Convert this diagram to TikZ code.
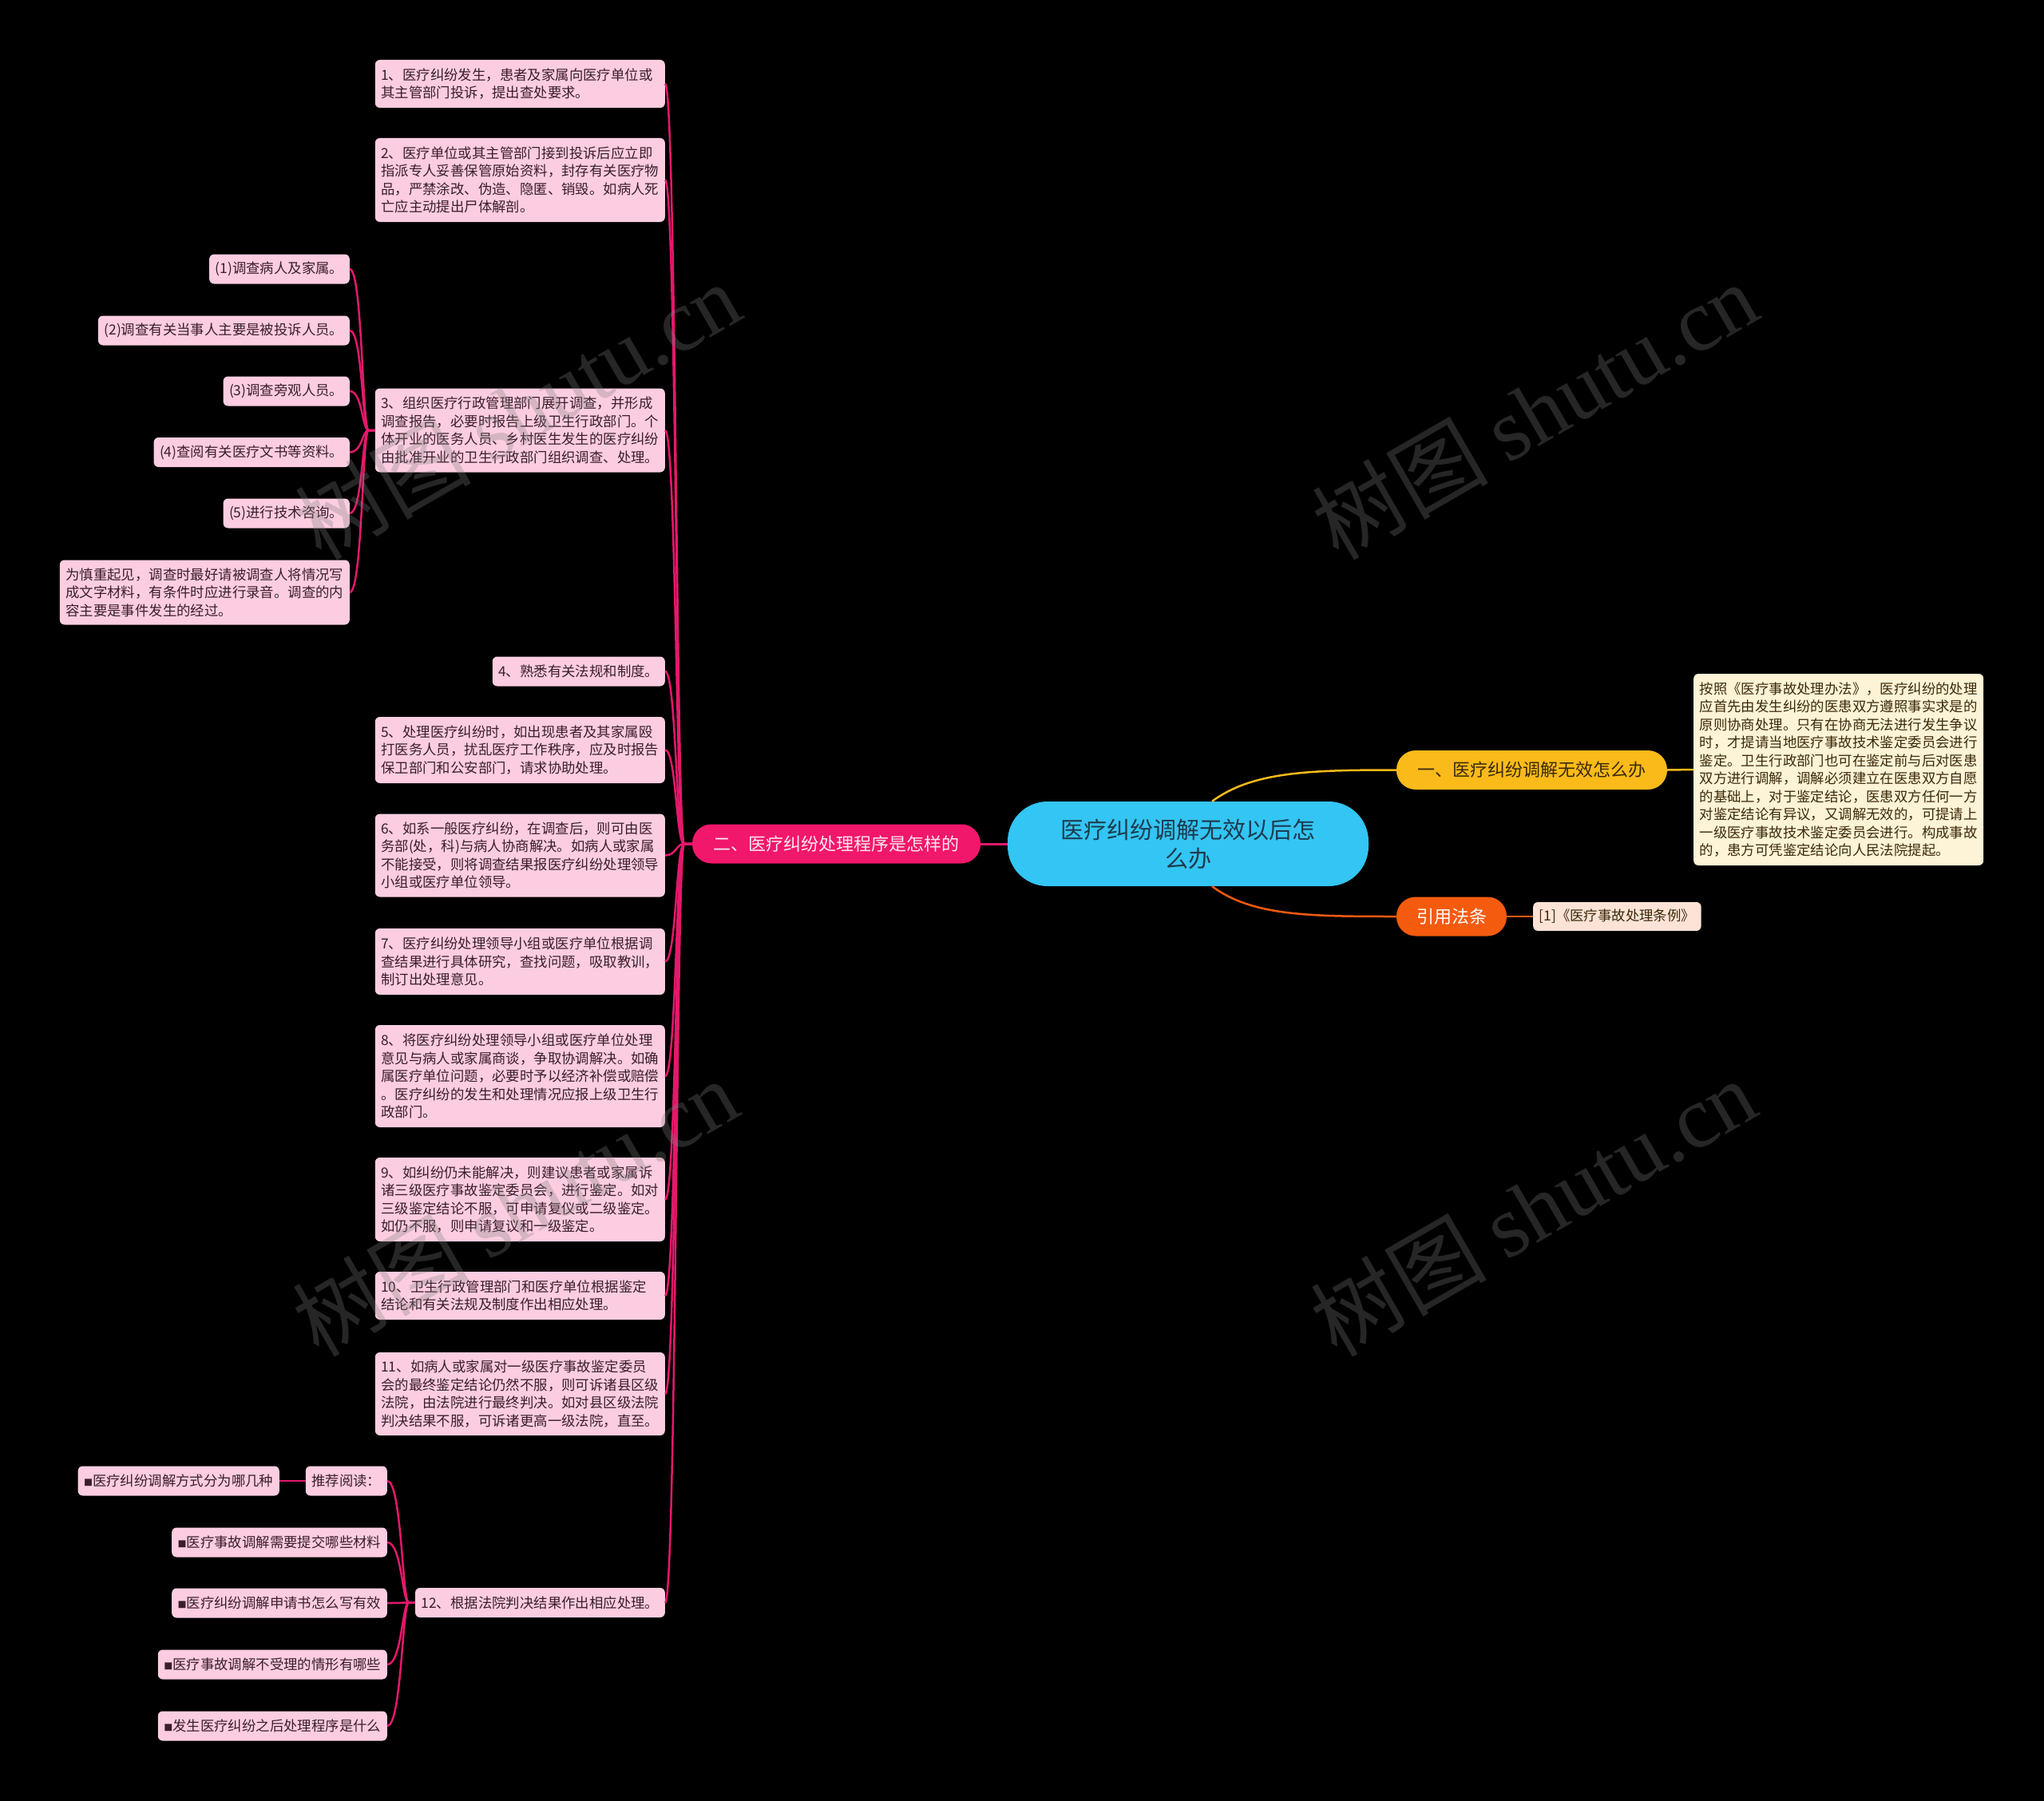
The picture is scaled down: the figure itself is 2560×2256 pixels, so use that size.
\documentclass[tikz,border=0pt]{standalone}
\usepackage{fontspec}
\setmainfont{Noto Sans CJK SC}
\newfontfamily\wmserif{Liberation Serif}
\definecolor{leaf}{HTML}{FCCDE1}
\definecolor{leaftxt}{HTML}{3B1E2B}
\definecolor{mag}{HTML}{E5186B}
\definecolor{magnode}{HTML}{F1176A}
\definecolor{magtxt}{HTML}{FDE7F0}
\definecolor{rootc}{HTML}{33C5F3}
\definecolor{roottxt}{HTML}{1D3B4D}
\definecolor{yel}{HTML}{FABA19}
\definecolor{yeltxt}{HTML}{3B2A0A}
\definecolor{ora}{HTML}{F55B0F}
\definecolor{cream}{HTML}{FDF3D6}
\definecolor{peach}{HTML}{FCE3D6}
\definecolor{wmgray}{HTML}{808080}
\tikzset{
  leafbox/.style={fill=leaf, text=leaftxt, rounded corners=6pt, inner xsep=7.5pt, inner ysep=4pt,
    font=\fontsize{17.4}{22.5}\selectfont, align=left, minimum height=37pt},
  multi/.style={text width=348pt, minimum height=#1},
  magline/.style={draw=mag, line width=2.5pt},
  yelline/.style={draw=yel, line width=2.5pt},
  oraline/.style={draw=ora, line width=2.5pt},
  wm/.style={text=wmgray, text opacity=0.3, font=\fontsize{110}{110}\selectfont, rotate=30}
}
\newcommand{\sqm}{{\fontsize{11}{11}\selectfont ■}}
\begin{document}
\begin{tikzpicture}[x=1pt,y=-1pt]
\fill[black] (0,0) rectangle (2560,2256);
\useasboundingbox (0,0) rectangle (2560,2256);

% root and main branches
\node[fill=rootc, text=roottxt, rounded corners=50pt, minimum width=452pt, minimum height=106pt,
  align=center, font=\fontsize{29}{36}\selectfont] (root) at (1488,1057) {医疗纠纷调解无效以后怎\\么办};
\node[fill=magnode, text=magtxt, rounded corners=24pt, minimum width=361pt, minimum height=49pt,
  font=\fontsize{22}{26}\selectfont] (n2) at (1047.5,1057) {二、医疗纠纷处理程序是怎样的};
\node[fill=yel, text=yeltxt, rounded corners=24pt, minimum width=339pt, minimum height=49pt,
  font=\fontsize{22}{26}\selectfont] (n1) at (1918.5,964.5) {一、医疗纠纷调解无效怎么办};
\node[fill=ora, text=white, rounded corners=24pt, minimum width=138pt, minimum height=49pt,
  font=\fontsize{22}{26}\selectfont] (nr) at (1818,1148) {引用法条};
\node[leafbox, fill=peach, text=yeltxt, anchor=west, minimum height=36pt] (c1) at (1920,1148) {[1]《医疗事故处理条例》};
\node[leafbox, multi=240pt, fill=cream, text=yeltxt, anchor=west] (a1) at (2121,964) {按照《医疗事故处理办法》，医疗纠纷的处理\\应首先由发生纠纷的医患双方遵照事实求是的\\原则协商处理。只有在协商无法进行发生争议\\时，才提请当地医疗事故技术鉴定委员会进行\\鉴定。卫生行政部门也可在鉴定前与后对医患\\双方进行调解，调解必须建立在医患双方自愿\\的基础上，对于鉴定结论，医患双方任何一方\\对鉴定结论有异议，又调解无效的，可提请上\\一级医疗事故技术鉴定委员会进行。构成事故\\的，患方可凭鉴定结论向人民法院提起。};

% left leaves
\node[leafbox, multi=60pt, anchor=east] (b1) at (833,105) {1、医疗纠纷发生，患者及家属向医疗单位或\\其主管部门投诉，提出查处要求。};
\node[leafbox, multi=105pt, anchor=east] (b2) at (833,225.5) {2、医疗单位或其主管部门接到投诉后应立即\\指派专人妥善保管原始资料，封存有关医疗物\\品，严禁涂改、伪造、隐匿、销毁。如病人死\\亡应主动提出尸体解剖。};
\node[leafbox, multi=105pt, anchor=east] (b3) at (833,539) {3、组织医疗行政管理部门展开调查，并形成\\调查报告，必要时报告上级卫生行政部门。个\\体开业的医务人员、乡村医生发生的医疗纠纷\\由批准开业的卫生行政部门组织调查、处理。};
\node[leafbox, anchor=east] (s1) at (438,337) {(1)调查病人及家属。};
\node[leafbox, anchor=east] (s2) at (438,414) {(2)调查有关当事人主要是被投诉人员。};
\node[leafbox, anchor=east] (s3) at (438,490) {(3)调查旁观人员。};
\node[leafbox, anchor=east] (s4) at (438,566.5) {(4)查阅有关医疗文书等资料。};
\node[leafbox, anchor=east] (s5) at (438,643) {(5)进行技术咨询。};
\node[leafbox, multi=81pt, anchor=east] (s6) at (438,742) {为慎重起见，调查时最好请被调查人将情况写\\成文字材料，有条件时应进行录音。调查的内\\容主要是事件发生的经过。};
\node[leafbox, anchor=east] (b4) at (833,841) {4、熟悉有关法规和制度。};
\node[leafbox, multi=83pt, anchor=east] (b5) at (833,939.5) {5、处理医疗纠纷时，如出现患者及其家属殴\\打医务人员，扰乱医疗工作秩序，应及时报告\\保卫部门和公安部门，请求协助处理。};
\node[leafbox, multi=104pt, anchor=east] (b6) at (833,1071.5) {6、如系一般医疗纠纷，在调查后，则可由医\\务部(处，科)与病人协商解决。如病人或家属\\不能接受，则将调查结果报医疗纠纷处理领导\\小组或医疗单位领导。};
\node[leafbox, multi=83pt, anchor=east] (b7) at (833,1204.5) {7、医疗纠纷处理领导小组或医疗单位根据调\\查结果进行具体研究，查找问题，吸取教训，\\制订出处理意见。};
\node[leafbox, multi=128pt, anchor=east] (b8) at (833,1348) {8、将医疗纠纷处理领导小组或医疗单位处理\\意见与病人或家属商谈，争取协调解决。如确\\属医疗单位问题，必要时予以经济补偿或赔偿\\。医疗纠纷的发生和处理情况应报上级卫生行\\政部门。};
\node[leafbox, multi=105pt, anchor=east] (b9) at (833,1502.5) {9、如纠纷仍未能解决，则建议患者或家属诉\\诸三级医疗事故鉴定委员会，进行鉴定。如对\\三级鉴定结论不服，可申请复仪或二级鉴定。\\如仍不服，则申请复议和一级鉴定。};
\node[leafbox, multi=60pt, anchor=east] (b10) at (833,1623) {10、卫生行政管理部门和医疗单位根据鉴定\\结论和有关法规及制度作出相应处理。};
\node[leafbox, multi=104pt, anchor=east] (b11) at (833,1746) {11、如病人或家属对一级医疗事故鉴定委员\\会的最终鉴定结论仍然不服，则可诉诸县区级\\法院，由法院进行最终判决。如对县区级法院\\判决结果不服，可诉诸更高一级法院，直至。};
\node[leafbox, anchor=east] (b12) at (833,2007.5) {12、根据法院判决结果作出相应处理。};
\node[leafbox, anchor=east] (r0) at (485,1855) {推荐阅读：};
\node[leafbox, anchor=east] (r1) at (350,1855) {\sqm 医疗纠纷调解方式分为哪几种};
\node[leafbox, anchor=east] (r2) at (485,1932) {\sqm 医疗事故调解需要提交哪些材料};
\node[leafbox, anchor=east] (r3) at (485,2008) {\sqm 医疗纠纷调解申请书怎么写有效};
\node[leafbox, anchor=east] (r4) at (485,2085) {\sqm 医疗事故调解不受理的情形有哪些};
\node[leafbox, anchor=east] (r5) at (485,2162) {\sqm 发生医疗纠纷之后处理程序是什么};

% connectors
\draw[magline, line width=3pt] (root.west) -- (n2.east);
\draw[yelline] ([xshift=30pt]root.north) .. controls +(50,-37) and +(-110,0) .. (n1.west);
\draw[oraline] ([xshift=30pt]root.south) .. controls +(50,37) and +(-110,0) .. (nr.west);
\draw[yelline] (n1.east) -- (a1.west);
\draw[oraline] (nr.east) -- (c1.west);
\foreach \c in {b1,b2,b3,b4,b5,b6,b7,b8,b9,b10,b11,b12}
  \draw[magline] (n2.west) -- ++(-10,0) .. controls +(-10,0) and +(14,0) .. (\c.east);
\foreach \c in {s1,s2,s3,s4,s5,s6}
  \draw[magline] (b3.west) -- ++(-8,0) .. controls +(-8,0) and +(16,0) .. (\c.east);
\foreach \c in {r0,r2,r3,r4,r5}
  \draw[magline] (b12.west) -- ++(-8,0) .. controls +(-8,0) and +(18,0) .. (\c.east);
\draw[magline] (r0.west) -- (r1.east);

% watermarks
\node[wm] (w1) at (648,514) {树图 {\wmserif shutu.cn}};
\node[wm] (w2) at (1922,514) {树图 {\wmserif shutu.cn}};
\node[wm] (w3) at (645,1512) {树图 {\wmserif shutu.cn}};
\node[wm] (w4) at (1920,1512) {树图 {\wmserif shutu.cn}};
\end{tikzpicture}
\end{document}
